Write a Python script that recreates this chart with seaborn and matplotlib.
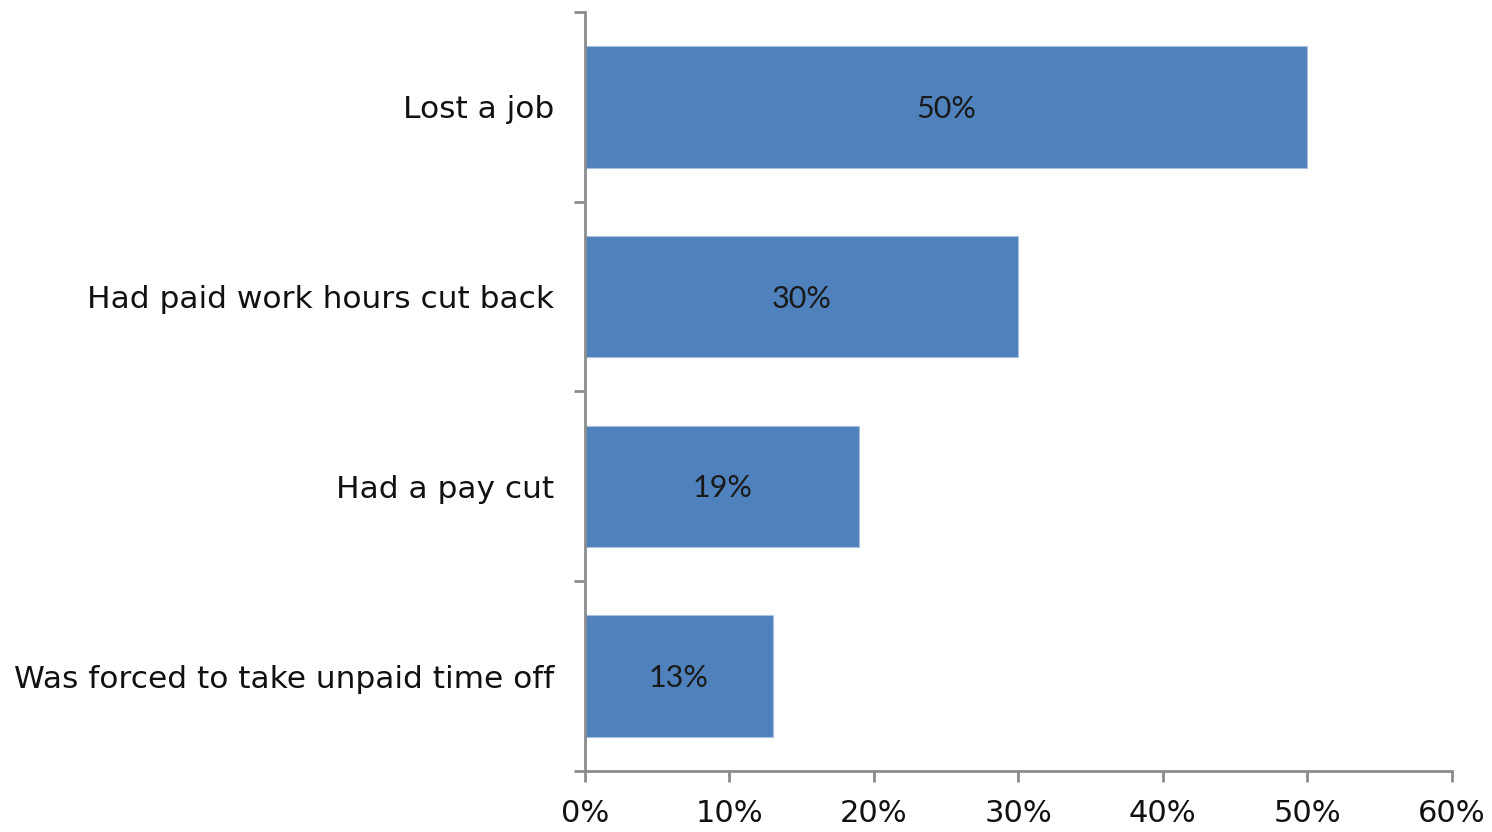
import numpy as np
import matplotlib
matplotlib.use('Agg')
import matplotlib.pyplot as plt
import seaborn as sns
import pandas as pd

categories = ['Lost a job', 'Had paid work hours cut back', 'Had a pay cut',
              'Was forced to take unpaid time off']
values = [50, 30, 19, 13]
x_ticks = [0, 10, 20, 30, 40, 50, 60]

sns.set_theme(style='white')
plt.rcParams['font.family'] = ['DejaVu Sans']

df = pd.DataFrame({'cat': categories, 'val': values})

fig = plt.figure(figsize=(14.92, 8.32), dpi=100)
ax = fig.add_axes([0.392, 0.0733, 0.581, 0.9123])

sns.barplot(data=df, x='val', y='cat', color='#4F81BD', saturation=1,
            width=0.64, ax=ax, edgecolor='#A9C1E0', linewidth=0.8)

for i, v in enumerate(values):
    ax.text(v / 2, i + 0.01, f'{v}%', ha='center', va='center', fontsize=22,
            color='#1a1a1a', family=['Lato', 'DejaVu Sans'])

ax.set_xlim(0, 60)
ax.set_ylim(len(categories) - 0.5, -0.5)
ax.set_xticks(x_ticks)
ax.set_xticklabels([f'{t}%' for t in x_ticks], fontsize=22, color='#111111')
ax.set_yticks(range(len(categories)))
ax.set_yticklabels(categories, fontsize=22.5, color='#111111')
ax.set_yticks(np.arange(-0.5, len(categories), 1), minor=True)
ax.tick_params(axis='y', which='major', length=0, pad=22)
ax.tick_params(axis='y', which='minor', length=8, width=2, color='#8c8c8c', direction='out', left=True)
ax.tick_params(axis='x', length=8, width=2, color='#8c8c8c', direction='out', bottom=True, pad=12)
ax.set_xlabel('')
ax.set_ylabel('')

for s in ['top', 'right']:
    ax.spines[s].set_visible(False)
for s in ['left', 'bottom']:
    ax.spines[s].set_color('#8c8c8c')
    ax.spines[s].set_linewidth(2)

fig.savefig('out.png', dpi=100)
